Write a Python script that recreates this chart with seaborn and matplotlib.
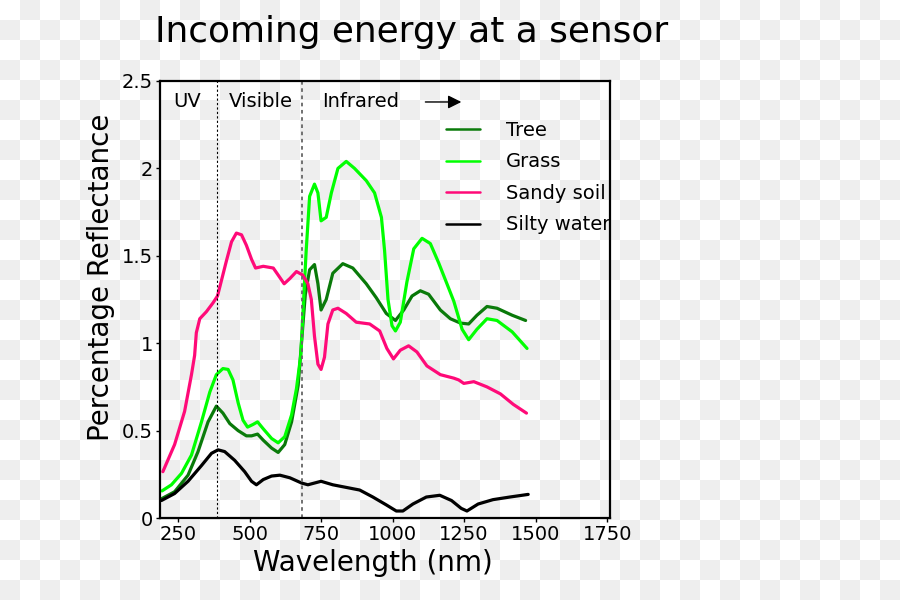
"""
Incoming energy at a sensor - spectral reflectance curves
"""
import numpy as np
import pandas as pd
import matplotlib
matplotlib.use("Agg")
import matplotlib.pyplot as plt
import seaborn as sns

# ---- data ----
tree_nm = [192, 238, 285, 320, 355, 384, 407, 431, 460, 489, 507, 528, 548, 577, 600, 623, 647, 670,
           695, 710, 727, 739, 750, 768, 791, 826, 861, 908, 943, 978, 1010, 1039, 1068, 1097, 1126,
           1167, 1202, 1237, 1266, 1295, 1330, 1365, 1418, 1465]
tree_val = [0.11, 0.15, 0.245, 0.38, 0.55, 0.64, 0.60, 0.54, 0.50, 0.47, 0.47, 0.48, 0.445, 0.40, 0.375, 0.42, 0.55, 0.76,
            1.28, 1.42, 1.45, 1.34, 1.19, 1.25, 1.40, 1.455, 1.43, 1.34, 1.26, 1.17, 1.13, 1.19, 1.27, 1.30, 1.28,
            1.19, 1.14, 1.115, 1.11, 1.16, 1.21, 1.20, 1.16, 1.13]

grass_nm = [194, 227, 262, 297, 332, 361, 384, 407, 425, 442, 460, 477, 493, 512, 528, 548, 577, 600, 623,
            647, 664, 679, 686, 698, 710, 727, 739, 750, 768, 786, 809, 838, 867, 908, 937, 961, 972, 984,
            998, 1010, 1027, 1050, 1074, 1103, 1132, 1161, 1190, 1214, 1243, 1266, 1295, 1330, 1365, 1418, 1470]
grass_val = [0.155, 0.19, 0.255, 0.36, 0.55, 0.72, 0.82, 0.855, 0.85, 0.79, 0.66, 0.56, 0.52, 0.535, 0.55, 0.51, 0.455, 0.43, 0.465,
             0.59, 0.74, 0.93, 1.15, 1.53, 1.84, 1.91, 1.86, 1.70, 1.72, 1.86, 2.00, 2.04, 2.00, 1.93, 1.86, 1.72, 1.53, 1.25,
             1.10, 1.07, 1.12, 1.35, 1.54, 1.60, 1.57, 1.46, 1.34, 1.24, 1.08, 1.02, 1.08, 1.14, 1.13, 1.065, 0.97]

soil_nm = [197, 238, 273, 297, 308, 314, 326, 349, 372, 388, 402, 419, 437, 454, 472, 489, 507, 521, 548,
           583, 600, 621, 641, 664, 686, 704, 716, 727, 739, 750, 762, 774, 791, 809, 838, 873, 920, 955,
           980, 1003, 1027, 1056, 1085, 1120, 1167, 1214, 1231, 1249, 1284, 1330, 1377, 1422, 1468]
soil_val = [0.265, 0.42, 0.61, 0.82, 0.93, 1.06, 1.14, 1.18, 1.23, 1.27, 1.36, 1.47, 1.58, 1.63, 1.62, 1.56, 1.48, 1.43, 1.44,
            1.43, 1.39, 1.34, 1.37, 1.41, 1.39, 1.34, 1.25, 1.04, 0.88, 0.85, 0.92, 1.11, 1.19, 1.20, 1.17, 1.12, 1.11, 1.07,
            0.97, 0.91, 0.96, 0.985, 0.95, 0.87, 0.82, 0.80, 0.79, 0.77, 0.78, 0.75, 0.71, 0.65, 0.60]

water_nm = [192, 238, 285, 332, 367, 390, 413, 448, 483, 507, 524, 548, 577, 606, 641, 682, 704, 750,
            791, 838, 885, 931, 978, 1013, 1036, 1071, 1118, 1165, 1206, 1240, 1260, 1299, 1351, 1410, 1474]
water_val = [0.10, 0.14, 0.21, 0.30, 0.37, 0.39, 0.38, 0.33, 0.265, 0.21, 0.19, 0.22, 0.24, 0.245, 0.23, 0.20, 0.19, 0.21,
             0.19, 0.175, 0.16, 0.12, 0.075, 0.04, 0.04, 0.08, 0.12, 0.13, 0.10, 0.055, 0.04, 0.08, 0.105, 0.12, 0.135]

series_names = ["Tree", "Grass", "Sandy soil", "Silty water"]
series_colors = ["#0a7a0a", "#00ff00", "#ff0a78", "#000000"]

# region markers (nm) and labels
region_bounds = [385, 685]
region_labels = ["UV", "Visible", "Infrared"]
region_label_x = [282, 540, 887]

x_ticks = [250, 500, 750, 1000, 1250, 1500, 1750]
y_ticks = [0, 0.5, 1, 1.5, 2, 2.5]
y_ticklabels = ["0", "0.5", "1", "1.5", "2", "2.5"]

# long-form table for seaborn
frames = []
for name, xs, ys in zip(series_names,
                        [tree_nm, grass_nm, soil_nm, water_nm],
                        [tree_val, grass_val, soil_val, water_val]):
    frames.append(pd.DataFrame({"nm": xs, "val": ys, "surface": name}))
df = pd.concat(frames, ignore_index=True)

sns.set_style("ticks")
plt.rcParams["font.family"] = ["DejaVu Sans"]
plt.rcParams["text.color"] = "black"
plt.rcParams["axes.labelcolor"] = "black"
plt.rcParams["lines.solid_joinstyle"] = "round"
plt.rcParams["lines.solid_capstyle"] = "round"

fig = plt.figure(figsize=(9, 6), dpi=100)

# transparency checkerboard behind everything
tile = 20
rows, cols = 600 // tile, 900 // tile
board = (np.add.outer(np.arange(rows), np.arange(cols)) % 2).astype(float)
board = np.kron(board, np.ones((tile, tile)))
rgb = np.where(board[..., None] > 0, 0xee / 255, 1.0) * np.ones(3)
fig.figimage(rgb, xo=0, yo=0, origin="upper", zorder=-10)
fig.patch.set_alpha(0)

ax = fig.add_axes([160 / 900, 1 - 518 / 600, 450 / 900, 437 / 600])
ax.set_facecolor("none")

sns.lineplot(data=df, x="nm", y="val", hue="surface", hue_order=series_names,
             palette=dict(zip(series_names, series_colors)), sort=False,
             linewidth=2.3, ax=ax, legend=True)

ax.set_xlim(187, 1760)
ax.set_ylim(0, 2.5)
ax.set_xticks(x_ticks)
ax.set_yticks(y_ticks)
ax.set_yticklabels(y_ticklabels)
ax.tick_params(labelsize=14, length=3, width=1, pad=2, colors="black")

for s in ax.spines.values():
    s.set_visible(True)
    s.set_linewidth(1.6)
    s.set_color("black")

ax.set_xlabel("Wavelength (nm)", fontsize=20)
ax.set_ylabel("Percentage Reflectance", fontsize=20)
# label positions (axes fraction) as in the reference
ax.xaxis.set_label_coords(0.473, -0.07, transform=ax.transAxes)
ax.yaxis.set_label_coords(-0.1, 0.551, transform=ax.transAxes)

# region separators
ax.axvline(region_bounds[0], color="black", linestyle=(0, (2, 2)), linewidth=0.8)
ax.axvline(region_bounds[1], color="#666666", linestyle=(0, (2, 2)), linewidth=1.3)
for lab, xv in zip(region_labels, region_label_x):
    ax.text(xv, 2.38, lab, fontsize=14, ha="center", va="center")
ax.annotate("", xy=(1250, 2.38), xytext=(1105, 2.38),
            arrowprops=dict(arrowstyle="-|>", color="black", lw=1, mutation_scale=20))

sns.move_legend(ax, loc="upper left", bbox_to_anchor=(446 / 900, 1 - 121 / 600),
                bbox_transform=fig.transFigure, frameon=False, title=None,
                fontsize=14, handlelength=1.75, handletextpad=1.35,
                labelspacing=0.64, borderpad=0, borderaxespad=0)
for h in ax.get_legend().get_lines():
    h.set_linewidth(1.8)

fig.text(412 / 900, 1 - 32 / 600, "Incoming energy at a sensor", fontsize=25.8,
         ha="center", va="center")

fig.savefig("out.png", dpi=100)
